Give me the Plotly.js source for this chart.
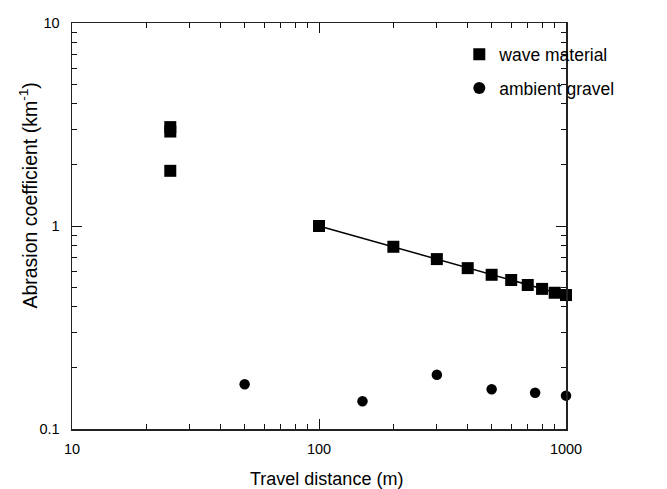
<!DOCTYPE html>
<html>
<head>
<meta charset="utf-8">
<script src="https://cdn.plot.ly/plotly-3.0.1.min.js"></script>
<style>html,body{margin:0;padding:0;background:#fff;}#chart{width:667px;height:489px;}</style>
</head>
<body>
<div id="chart"></div>
<script>
// Wave material (squares)
const waveX = [25, 25, 25, 100, 200, 300, 400, 500, 600, 700, 800, 900, 1000];
const waveY = [3.07, 2.92, 1.87, 1.0, 0.79, 0.687, 0.62, 0.575, 0.542, 0.512, 0.49, 0.469, 0.457];
// Ambient gravel (circles)
const gravelX = [50, 150, 300, 500, 750, 1000];
const gravelY = [0.166, 0.137, 0.185, 0.157, 0.151, 0.146];
// Fitted power-law line for wave material
const fitX = [100, 1000];
const fitY = [1.0, 0.455];

const FONT = "'Liberation Sans', Arial, Helvetica, sans-serif";

const traces = [
  {x: fitX, y: fitY, mode: 'lines', line: {color: '#000', width: 1.5}, showlegend: false, hoverinfo: 'skip', cliponaxis: false},
  {x: waveX, y: waveY, mode: 'markers', name: 'wave material', legendgroup: 'a', cliponaxis: false,
   marker: {symbol: 'square', size: 12, color: '#000'}},
  {x: gravelX, y: gravelY, mode: 'markers', name: 'ambient gravel', legendgroup: 'b', cliponaxis: false,
   marker: {symbol: 'circle', size: 10.5, color: '#000'}}
];

const axisCommon = {
  type: 'log', dtick: 1, ticks: 'inside', ticklen: 10, tickwidth: 1, tickcolor: '#111',
  mirror: 'ticks', showline: true, linecolor: '#222', linewidth: 1.5,
  showgrid: false, zeroline: false,
  tickfont: {family: FONT, size: 14.5, color: '#000'},
  minor: {ticks: 'inside', ticklen: 5, tickwidth: 1, tickcolor: '#111', dtick: 'D1', showgrid: false}
};

const layout = {
  width: 667, height: 489,
  margin: {l: 72, r: 101, t: 23, b: 60},
  paper_bgcolor: '#fff', plot_bgcolor: '#fff',
  font: {family: FONT, color: '#000'},
  xaxis: Object.assign({}, axisCommon, {range: [1, 3], ticklabelstandoff: 6}),
  yaxis: Object.assign({}, axisCommon, {range: [-1, 1], ticklabelstandoff: 8}),
  showlegend: true,
  legend: {x: 0.784, y: 0.967, xanchor: 'left', yanchor: 'top', bgcolor: 'rgba(0,0,0,0)',
           font: {family: FONT, size: 17.5, color: '#000'}, tracegroupgap: 8, itemsizing: 'constant'},
  annotations: [
    {text: 'Travel distance (m)', xref: 'paper', yref: 'paper', x: 0.516, y: -0.123,
     xanchor: 'center', yanchor: 'middle', showarrow: false, font: {family: FONT, size: 18, color: '#000'}},
    {text: 'Abrasion coefficient (km<sup>-1</sup>)', xref: 'paper', yref: 'paper', x: -0.089, y: 0.575,
     xanchor: 'center', yanchor: 'middle', textangle: -90, showarrow: false,
     font: {family: FONT, size: 19.5, color: '#000'}}
  ]
};

Plotly.newPlot('chart', traces, layout, {displayModeBar: false, staticPlot: true});
</script>
</body>
</html>
